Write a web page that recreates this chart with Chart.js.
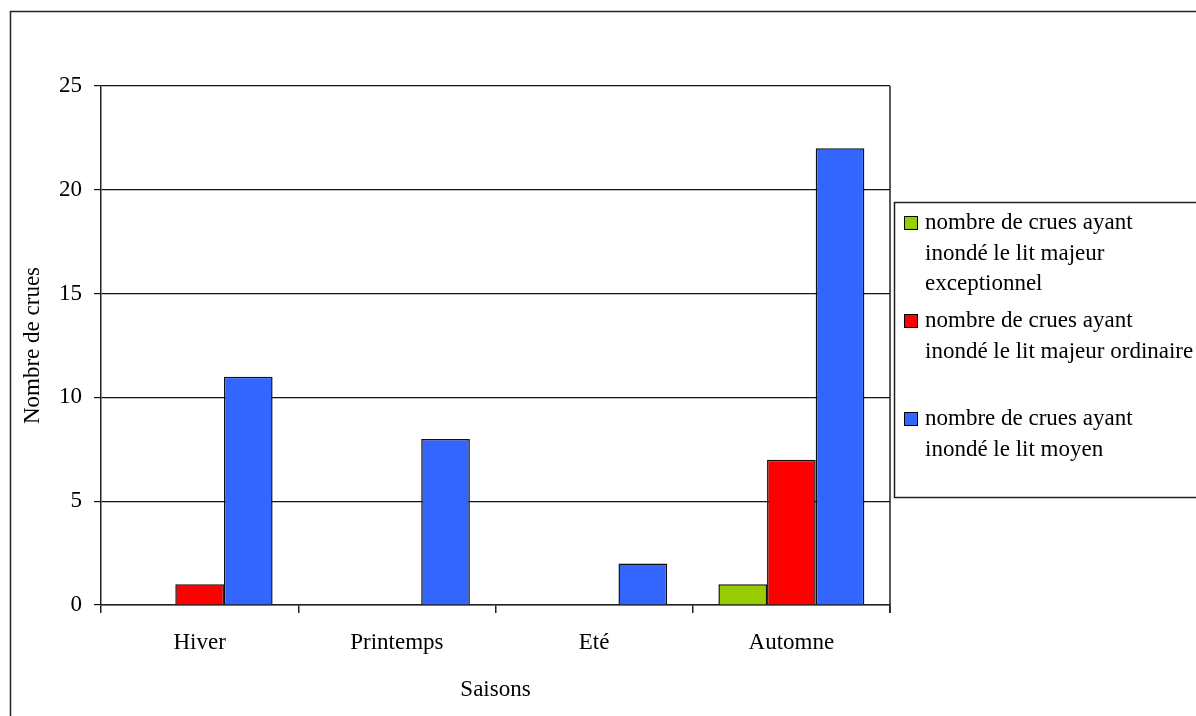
<!DOCTYPE html>
<html>
<head>
<meta charset="utf-8">
<script src="https://cdn.jsdelivr.net/npm/chart.js@4"></script>
<style>
  html, body { margin: 0; padding: 0; background: #fff; }
  #wrap { width: 1196px; height: 716px; }
</style>
</head>
<body>
<div id="wrap"><canvas id="crues" width="1196" height="716"></canvas></div>
<script>
const seasons = ['Hiver', 'Printemps', 'Eté', 'Automne'];
const litMajeurExceptionnel = [0, 0, 0, 1];
const litMajeurOrdinaire = [1, 0, 0, 7];
const litMoyen = [11, 8, 2, 22];
const seriesNames = [
    ['nombre de crues ayant', 'inondé le lit majeur', 'exceptionnel'],
    ['nombre de crues ayant', 'inondé le lit majeur ordinaire'],
    ['nombre de crues ayant', 'inondé le lit moyen']
];
const yTicks = [0, 5, 10, 15, 20, 25];

const FONT = "'Liberation Serif', 'Times New Roman', serif";

// frame around the whole chart, right edge of the plot, and the boxed legend
const framePlugin = {
    id: 'frame',
    afterDraw(chart) {
        const ctx = chart.ctx;
        const a = chart.chartArea;
        ctx.save();
        ctx.strokeStyle = '#222';
        ctx.lineWidth = 1.5;
        ctx.strokeRect(10.5, 11.5, chart.width + 20, chart.height + 20);
        ctx.beginPath();
        ctx.moveTo(Math.round(a.right), a.top);
        ctx.lineTo(Math.round(a.right), a.bottom + 8);
        ctx.stroke();

        // legend
        ctx.strokeRect(894.5, 202.5, 400, 295);
        ctx.font = '23px ' + FONT;
        ctx.textBaseline = 'middle';
        ctx.textAlign = 'left';
        ctx.lineWidth = 1;
        chart.data.datasets.forEach((ds, i) => {
            const y0 = 223 + i * 98;
            ctx.fillStyle = ds.backgroundColor;
            ctx.fillRect(904.5, y0 - 6.5, 13, 13);
            ctx.strokeStyle = '#000';
            ctx.strokeRect(904.5, y0 - 6.5, 13, 13);
            ctx.fillStyle = '#000';
            ds.label.forEach((line, j) => {
                ctx.fillText(line, 925, y0 + j * 30.5);
            });
        });
        ctx.restore();
    }
};

new Chart(document.getElementById('crues'), {
    type: 'bar',
    data: {
        labels: seasons,
        datasets: [
            { label: seriesNames[0], data: litMajeurExceptionnel, backgroundColor: '#99CC00' },
            { label: seriesNames[1], data: litMajeurOrdinaire, backgroundColor: '#FF0000' },
            { label: seriesNames[2], data: litMoyen, backgroundColor: '#3366FF' }
        ].map(d => Object.assign(d, {
            borderColor: '#111',
            borderWidth: 1.5,
            borderSkipped: 'bottom',
            categoryPercentage: 0.74,
            barPercentage: 1
        }))
    },
    options: {
        responsive: false,
        animation: false,
        layout: { padding: { left: 0, top: 86, right: 306, bottom: 0 } },
        plugins: {
            legend: { display: false },
            tooltip: { enabled: false }
        },
        scales: {
            x: {
                afterFit: s => { s.height = 111; },
                grid: { offset: true, drawOnChartArea: false, drawTicks: true, tickLength: 8, color: '#222', lineWidth: 1.5 },
                border: { color: '#222', width: 1.5 },
                ticks: { color: '#000', padding: 16, font: { family: FONT, size: 23 } },
                title: { display: true, text: 'Saisons', color: '#000', padding: { top: 0, bottom: 12 }, font: { family: FONT, size: 23 } }
            },
            y: {
                min: 0,
                max: 25,
                afterFit: s => { s.width = 101; },
                afterBuildTicks: s => { s.ticks = yTicks.map(v => ({ value: v })); },
                grid: { color: '#111', tickLength: 7, lineWidth: 1.2 },
                border: { color: '#222', width: 1.5 },
                ticks: { color: '#000', padding: 12, font: { family: FONT, size: 23 } },
                title: { display: true, text: 'Nombre de crues', color: '#000', padding: { top: 19, bottom: 0 }, font: { family: FONT, size: 23 } }
            }
        }
    },
    plugins: [framePlugin]
});
</script>
</body>
</html>
